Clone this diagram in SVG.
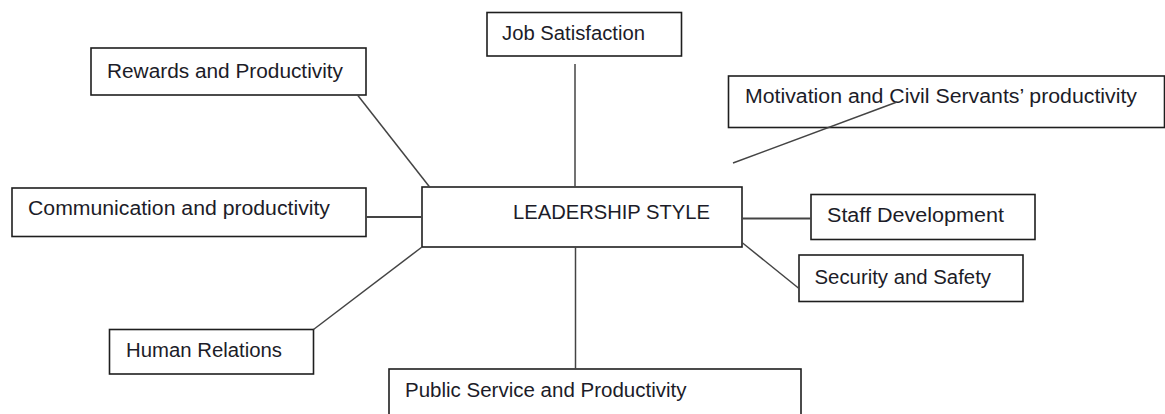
<svg xmlns="http://www.w3.org/2000/svg" width="1165" height="414" viewBox="0 0 1165 414">
  <style>
    .box { fill: #ffffff; stroke: #1e1e1e; stroke-width: 1.6; }
    .lbl { font-family: "Liberation Sans", Arial, sans-serif; font-size: 20px; fill: #1c1c28; }
    .big { font-size: 21px; }
    .link { stroke: #444444; stroke-width: 1.5; fill: none; }
    .thick { stroke-width: 2.2; }
  </style>
  <rect width="1165" height="414" fill="#ffffff"/>

  <g id="leadership-style">
    <rect class="box" x="422" y="187" width="320" height="60"/>
    <text class="lbl big" x="513" y="219" textLength="197" lengthAdjust="spacingAndGlyphs">LEADERSHIP STYLE</text>
  </g>

  <g id="job-satisfaction">
    <rect class="box" x="487" y="12.5" width="194.5" height="43.5"/>
    <text class="lbl" x="502" y="40" textLength="143" lengthAdjust="spacingAndGlyphs">Job Satisfaction</text>
  </g>

  <g id="rewards">
    <rect class="box" x="91" y="48" width="275" height="47"/>
    <text class="lbl" x="107" y="78" textLength="236" lengthAdjust="spacingAndGlyphs">Rewards and Productivity</text>
  </g>

  <!-- wide box runs off the right edge -->
  <g id="motivation">
    <rect class="box" x="728.5" y="76" width="436" height="51.5"/>
    <text class="lbl" x="745" y="103" textLength="392" lengthAdjust="spacingAndGlyphs">Motivation and Civil Servants’ productivity</text>
  </g>

  <g id="communication">
    <rect class="box" x="12" y="188" width="354" height="48.5"/>
    <text class="lbl" x="28" y="215" textLength="302" lengthAdjust="spacingAndGlyphs">Communication and productivity</text>
  </g>

  <g id="staff-development">
    <rect class="box" x="811" y="194.5" width="224" height="45"/>
    <text class="lbl" x="827" y="222" textLength="177" lengthAdjust="spacingAndGlyphs">Staff Development</text>
  </g>

  <g id="security-safety">
    <rect class="box" x="799" y="255" width="224" height="46.5"/>
    <text class="lbl" x="814.5" y="284" textLength="176.5" lengthAdjust="spacingAndGlyphs">Security and Safety</text>
  </g>

  <g id="human-relations">
    <rect class="box" x="109.5" y="329.5" width="204" height="44.5"/>
    <text class="lbl" x="126" y="357" textLength="156" lengthAdjust="spacingAndGlyphs">Human Relations</text>
  </g>

  <!-- bottom box is cut by the lower edge -->
  <g id="public-service">
    <rect class="box" x="389" y="369" width="412" height="50"/>
    <text class="lbl" x="405" y="397" textLength="281.5" lengthAdjust="spacingAndGlyphs">Public Service and Productivity</text>
  </g>

  <!-- spokes from the central box, drawn last so the motivation spoke overlaps its box -->
  <g id="connectors">
    <line class="link" x1="575" y1="64" x2="575" y2="187"/>
    <line class="link" x1="357.5" y1="95" x2="430" y2="187.5"/>
    <line class="link" x1="733" y1="163" x2="897" y2="102"/>
    <line class="link thick" x1="366" y1="217" x2="422" y2="217"/>
    <line class="link thick" x1="742" y1="218.5" x2="811" y2="218.5"/>
    <line class="link" x1="742" y1="242.5" x2="799" y2="288.5"/>
    <line class="link" x1="313.5" y1="329.5" x2="422" y2="247"/>
    <line class="link" x1="575.5" y1="247" x2="575.5" y2="369"/>
  </g>
</svg>
